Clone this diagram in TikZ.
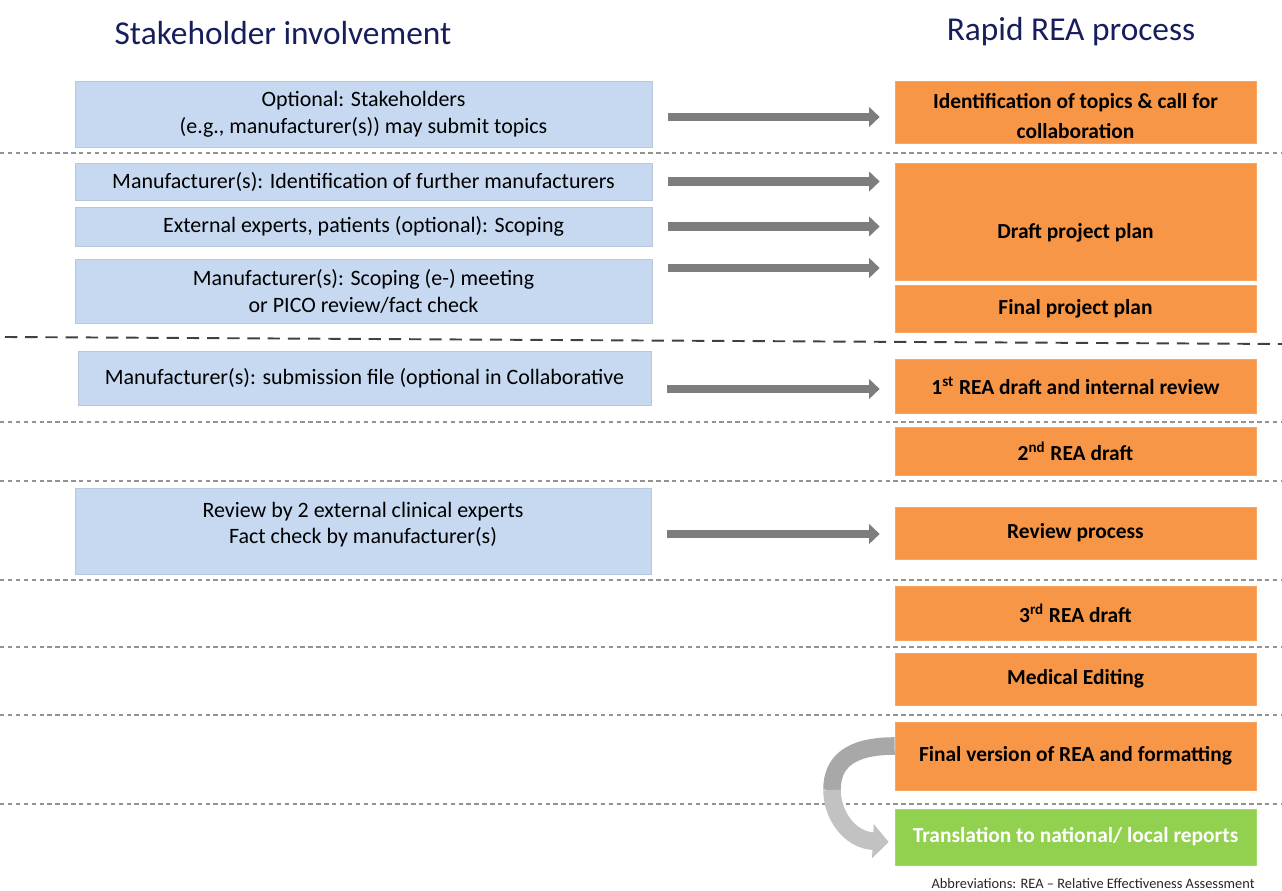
\documentclass[tikz,border=0pt]{standalone}
\usepackage{fontspec}
\setmainfont{Carlito}
\usetikzlibrary{arrows.meta}
\definecolor{stakeblue}{RGB}{198,217,241}
\definecolor{reaorange}{RGB}{247,150,70}
\definecolor{transgreen}{RGB}{146,208,80}
\definecolor{titlenavy}{RGB}{22,30,92}
\definecolor{flowgray}{RGB}{125,125,125}

\tikzset{
  title/.style={font=\fontsize{19}{22}\selectfont, text=titlenavy},
  stake/.style={fill=stakeblue, draw=stakeblue!80!gray, line width=0.4pt, align=center,
    inner sep=2pt, minimum width=11.54cm, font=\fontsize{12.5}{15.3}\selectfont},
  rea/.style={fill=reaorange, draw=reaorange!85!white, line width=0.4pt, align=center,
    inner sep=2pt, minimum width=7.22cm, font=\bfseries\fontsize{12.2}{17}\selectfont},
  trans/.style={rea, fill=transgreen, draw=transgreen!85!white, text=white},
  sep/.style={draw=gray!85, line width=0.6pt, dash pattern=on 2.5pt off 2pt},
  majorsep/.style={draw=black!75, line width=1.1pt, dash pattern=on 7pt off 4.5pt},
  flow/.style={draw=flowgray, line width=4.8pt, -{Triangle[length=6pt,width=11pt]},
    shorten <=0.32cm, shorten >=0.3cm},
  loopback/.style={line width=10pt}
}

\begin{document}
\begin{tikzpicture}[x=0.02cm,y=-0.02cm]
\useasboundingbox (0,0) rectangle (1282,891);
% headings
\node[title] (lefthead) at (283,33) {Stakeholder involvement};
\node[title] (righthead) at (1071,32) {Rapid REA process};
% row separators
\foreach \y in {153,422,481,580,647,715,804}
  \draw[sep] (0,\y) -- (1282,\y);
\draw[majorsep] (5,337) -- (1282,344);
% stakeholder side
\node[stake, minimum height=1.32cm] (topics) at (363.5,114) {Optional: Stakeholders\\(e.g., manufacturer(s)) may submit topics};
\node[stake, minimum height=0.74cm] (further) at (363.5,181.5) {Manufacturer(s): Identification of further manufacturers};
\node[stake, minimum height=0.78cm] (experts) at (363.5,226.5) {External experts, patients (optional): Scoping};
\node[stake, minimum height=1.28cm] (scoping) at (363.5,291) {Manufacturer(s): Scoping (e-) meeting\\ or PICO review/fact check};
\node[stake, minimum width=11.46cm, minimum height=1.08cm] (submission) at (364.5,378) {Manufacturer(s): submission file (optional in Collaborative};
\node[stake, minimum width=11.52cm, minimum height=1.72cm] (clinical) at (363,531) {Review by 2 external clinical experts\\Fact check by manufacturer(s)\\[-6pt]};
% REA process side
\node[rea, minimum height=1.24cm] (identify) at (1075.5,112) {\\[-3.5pt]Identification of topics \& call for\\collaboration};
\node[rea, minimum height=2.34cm] (draftplan) at (1075.5,221.5) {\\[4pt]Draft project plan};
\node[rea, minimum height=0.94cm] (finalplan) at (1075.5,308.5) {Final project plan};
\node[rea, minimum height=1.08cm] (firstdraft) at (1075.5,386) {1\textsuperscript{st} REA draft and internal review};
\node[rea, minimum height=0.96cm] (seconddraft) at (1075.5,451) {2\textsuperscript{nd} REA draft};
\node[rea, minimum height=1.04cm] (review) at (1075.5,533) {Review process};
\node[rea, minimum height=1.08cm] (thirddraft) at (1075.5,613) {3\textsuperscript{rd} REA draft};
\node[rea, minimum height=1.04cm] (editing) at (1075.5,679) {Medical Editing};
\node[rea, minimum height=1.36cm] (finalrea) at (1075.5,756) {Final version of REA and formatting};
\node[trans, minimum height=1.12cm] (translation) at (1075.5,837) {Translation to national/ local reports};
\node[anchor=east, inner sep=0pt, text=gray!30!black, font=\fontsize{8.2}{10}\selectfont] (abbrev) at (1255,884) {Abbreviations: REA -- Relative Effectiveness Assessment};
% arrows
\draw[flow] ([yshift=-0.06cm]topics.east) -- ([yshift=-0.06cm]topics.east -| identify.west);
\draw[flow] (further.east) -- (further.east -| draftplan.west);
\draw[flow] (experts.east) -- (experts.east -| draftplan.west);
\draw[flow] ([yshift=0.46cm]scoping.east) -- ([yshift=0.46cm]scoping.east -| draftplan.west);
\draw[flow] ([yshift=-0.22cm]submission.east) -- ([yshift=-0.22cm]submission.east -| firstdraft.west);
\draw[flow] ([yshift=-0.06cm]clinical.east) -- ([yshift=-0.06cm]clinical.east -| review.west);
% curved hand-over arrow
\coordinate (bendstart) at ([yshift=0.2cm]finalrea.west);
\coordinate (bendmid) at (832,790);
\coordinate (bendend) at ([xshift=-0.12cm,yshift=-0.1cm]translation.west);
\draw[loopback, draw=gray!68] (bendstart) .. controls +(-45,0) and +(0,-28) .. (bendmid);
\draw[loopback, draw=gray!48, -{Triangle[length=9pt,width=19pt]}] (bendmid) .. controls +(0,24) and +(-40,-2) .. (bendend);
\end{tikzpicture}
\end{document}
